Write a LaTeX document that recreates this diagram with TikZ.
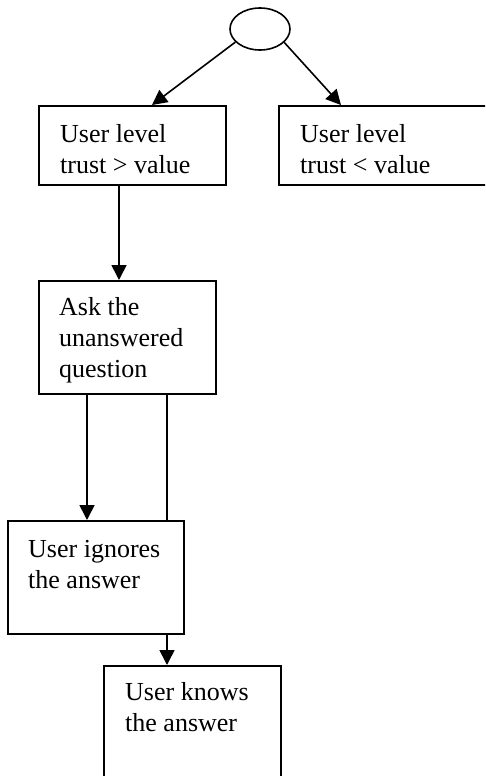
\documentclass[tikz,border=0pt]{standalone}
\usepackage{fontspec}
\setmainfont{Liberation Serif}
\usetikzlibrary{arrows.meta,shapes.geometric}
\begin{document}
\begin{tikzpicture}[x=1pt,y=-1pt,
  boxline/.style={draw=black,line width=1.6pt},
  txt/.style={anchor=base west,inner sep=0pt,align=left,font=\fontsize{26}{31}\selectfont},
  arr/.style={line width=1.6pt,-{Triangle[length=15pt,width=15pt]}},
  plain/.style={line width=1.6pt}]
\useasboundingbox (0,0) rectangle (485,776);
\clip (0,0) rectangle (485,776);
\fill[white] (0,0) rectangle (485,776);
\node[boxline,ellipse,minimum width=60pt,minimum height=42pt,inner sep=0pt] (e) at (260,29) {};
\node[boxline,rectangle,minimum width=187pt,minimum height=79pt,inner sep=0pt,anchor=north west] (b1) at (38,105) {};
\node[boxline,rectangle,minimum width=222pt,minimum height=79pt,inner sep=0pt,anchor=north west] (b2) at (278,105) {};
\node[boxline,rectangle,minimum width=177pt,minimum height=113pt,inner sep=0pt,anchor=north west] (b3) at (38,280) {};
\node[boxline,rectangle,minimum width=176pt,minimum height=113pt,inner sep=0pt,anchor=north west] (b4) at (7,520) {};
\node[boxline,rectangle,minimum width=177pt,minimum height=135pt,inner sep=0pt,anchor=north west] (b5) at (103,665) {};
\node[txt] (t1) at (60,173) {User level\\trust > value};
\node[txt] (t2) at (300,173) {User level\\trust < value};
\node[txt] (t3) at (59,377) {Ask the\\unanswered\\question};
\node[txt] (t4) at (28,588) {User ignores\\the answer};
\node[txt] (t5) at (125,731) {User knows\\the answer};
\draw[arr] (e.-152) -- ([xshift=114pt]b1.north west);
\draw[arr] (e.-29) -- ([xshift=63pt]b2.north west);
\draw[arr] ([xshift=81pt]b1.south west) -- ([xshift=81pt]b3.north west);
\draw[arr] ([xshift=49pt]b3.south west) -- ([xshift=80pt]b4.north west);
\draw[plain] ([xshift=129pt]b3.south west) -- ([xshift=160pt]b4.north west);
\draw[arr] ([xshift=160pt]b4.south west) -- ([xshift=64pt]b5.north west);
\end{tikzpicture}
\end{document}
